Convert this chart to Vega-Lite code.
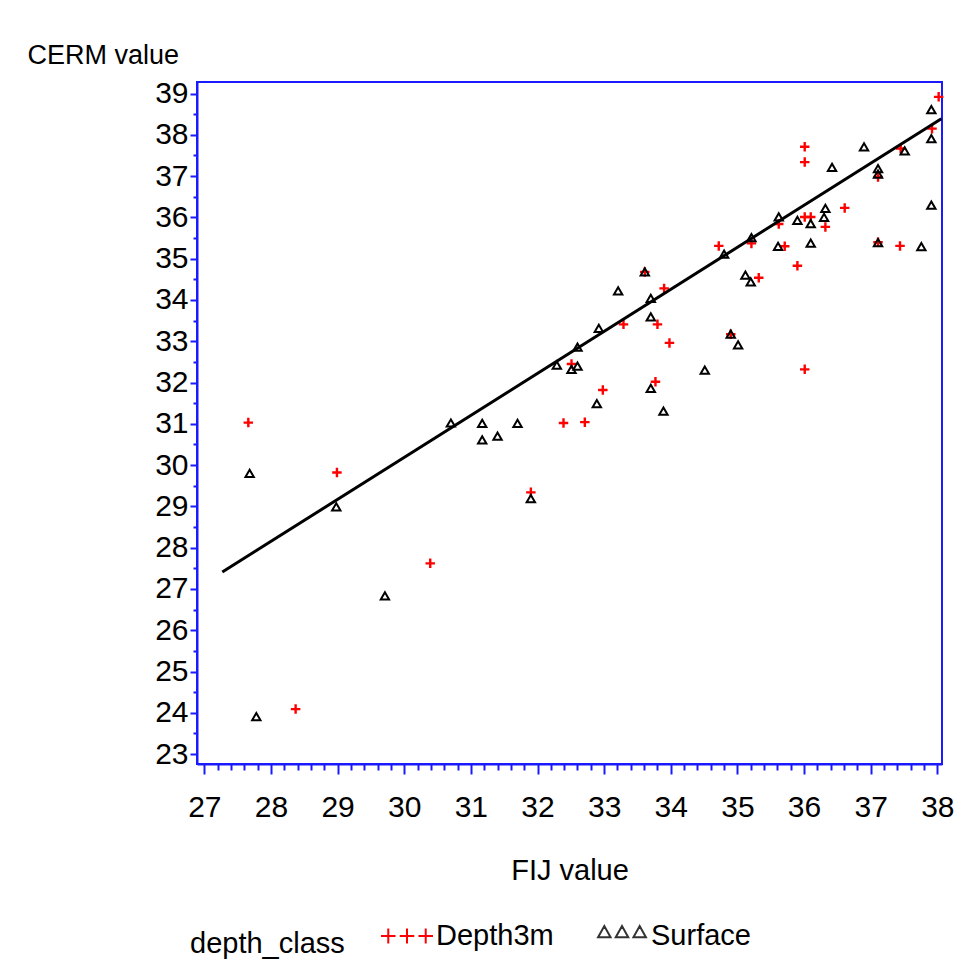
{
  "$schema": "https://vega.github.io/schema/vega-lite/v6.json",
  "width": 745,
  "height": 682,
  "autosize": {"type": "none"},
  "padding": {"left": 197, "top": 82, "right": 12, "bottom": 196},
  "background": "white",
  "config": {
    "font": "Liberation Sans",
    "view": {"stroke": "#1a1aff", "strokeWidth": 2},
    "axis": {"grid": false}
  },
  "datasets": {
    "points": [
      {"FIJ": 27.66, "CERM": 31.03, "depth_class": "Depth3m"},
      {"FIJ": 28.99, "CERM": 29.82, "depth_class": "Depth3m"},
      {"FIJ": 28.37, "CERM": 24.09, "depth_class": "Depth3m"},
      {"FIJ": 30.39, "CERM": 27.62, "depth_class": "Depth3m"},
      {"FIJ": 31.90, "CERM": 29.34, "depth_class": "Depth3m"},
      {"FIJ": 32.39, "CERM": 31.02, "depth_class": "Depth3m"},
      {"FIJ": 32.71, "CERM": 31.04, "depth_class": "Depth3m"},
      {"FIJ": 32.98, "CERM": 31.82, "depth_class": "Depth3m"},
      {"FIJ": 33.29, "CERM": 33.41, "depth_class": "Depth3m"},
      {"FIJ": 33.80, "CERM": 33.41, "depth_class": "Depth3m"},
      {"FIJ": 33.98, "CERM": 32.96, "depth_class": "Depth3m"},
      {"FIJ": 33.77, "CERM": 32.02, "depth_class": "Depth3m"},
      {"FIJ": 33.90, "CERM": 34.28, "depth_class": "Depth3m"},
      {"FIJ": 33.61, "CERM": 34.68, "depth_class": "Depth3m"},
      {"FIJ": 32.51, "CERM": 32.45, "depth_class": "Depth3m"},
      {"FIJ": 38.02, "CERM": 38.92, "depth_class": "Depth3m"},
      {"FIJ": 37.92, "CERM": 38.15, "depth_class": "Depth3m"},
      {"FIJ": 36.01, "CERM": 37.71, "depth_class": "Depth3m"},
      {"FIJ": 36.01, "CERM": 37.34, "depth_class": "Depth3m"},
      {"FIJ": 37.11, "CERM": 36.98, "depth_class": "Depth3m"},
      {"FIJ": 37.45, "CERM": 37.67, "depth_class": "Depth3m"},
      {"FIJ": 36.61, "CERM": 36.23, "depth_class": "Depth3m"},
      {"FIJ": 36.32, "CERM": 35.77, "depth_class": "Depth3m"},
      {"FIJ": 36.01, "CERM": 36.01, "depth_class": "Depth3m"},
      {"FIJ": 36.10, "CERM": 36.01, "depth_class": "Depth3m"},
      {"FIJ": 35.62, "CERM": 35.84, "depth_class": "Depth3m"},
      {"FIJ": 35.21, "CERM": 35.37, "depth_class": "Depth3m"},
      {"FIJ": 34.72, "CERM": 35.31, "depth_class": "Depth3m"},
      {"FIJ": 35.71, "CERM": 35.30, "depth_class": "Depth3m"},
      {"FIJ": 35.90, "CERM": 34.83, "depth_class": "Depth3m"},
      {"FIJ": 35.32, "CERM": 34.54, "depth_class": "Depth3m"},
      {"FIJ": 37.11, "CERM": 35.40, "depth_class": "Depth3m"},
      {"FIJ": 37.44, "CERM": 35.31, "depth_class": "Depth3m"},
      {"FIJ": 36.01, "CERM": 32.32, "depth_class": "Depth3m"},
      {"FIJ": 34.90, "CERM": 33.17, "depth_class": "Depth3m"},
      {"FIJ": 27.68, "CERM": 29.80, "depth_class": "Surface"},
      {"FIJ": 28.98, "CERM": 28.99, "depth_class": "Surface"},
      {"FIJ": 27.78, "CERM": 23.91, "depth_class": "Surface"},
      {"FIJ": 29.71, "CERM": 26.83, "depth_class": "Surface"},
      {"FIJ": 30.70, "CERM": 31.02, "depth_class": "Surface"},
      {"FIJ": 31.17, "CERM": 31.01, "depth_class": "Surface"},
      {"FIJ": 31.70, "CERM": 31.01, "depth_class": "Surface"},
      {"FIJ": 31.17, "CERM": 30.61, "depth_class": "Surface"},
      {"FIJ": 31.40, "CERM": 30.70, "depth_class": "Surface"},
      {"FIJ": 31.90, "CERM": 29.19, "depth_class": "Surface"},
      {"FIJ": 32.29, "CERM": 32.42, "depth_class": "Surface"},
      {"FIJ": 32.51, "CERM": 32.32, "depth_class": "Surface"},
      {"FIJ": 32.60, "CERM": 32.40, "depth_class": "Surface"},
      {"FIJ": 32.60, "CERM": 32.86, "depth_class": "Surface"},
      {"FIJ": 32.89, "CERM": 31.49, "depth_class": "Surface"},
      {"FIJ": 32.92, "CERM": 33.31, "depth_class": "Surface"},
      {"FIJ": 33.21, "CERM": 34.22, "depth_class": "Surface"},
      {"FIJ": 33.61, "CERM": 34.68, "depth_class": "Surface"},
      {"FIJ": 33.70, "CERM": 34.04, "depth_class": "Surface"},
      {"FIJ": 33.70, "CERM": 33.59, "depth_class": "Surface"},
      {"FIJ": 33.70, "CERM": 31.86, "depth_class": "Surface"},
      {"FIJ": 33.89, "CERM": 31.31, "depth_class": "Surface"},
      {"FIJ": 34.51, "CERM": 32.30, "depth_class": "Surface"},
      {"FIJ": 34.90, "CERM": 33.17, "depth_class": "Surface"},
      {"FIJ": 35.01, "CERM": 32.91, "depth_class": "Surface"},
      {"FIJ": 34.80, "CERM": 35.11, "depth_class": "Surface"},
      {"FIJ": 35.12, "CERM": 34.60, "depth_class": "Surface"},
      {"FIJ": 35.20, "CERM": 34.44, "depth_class": "Surface"},
      {"FIJ": 35.21, "CERM": 35.51, "depth_class": "Surface"},
      {"FIJ": 35.61, "CERM": 35.30, "depth_class": "Surface"},
      {"FIJ": 35.62, "CERM": 36.01, "depth_class": "Surface"},
      {"FIJ": 35.90, "CERM": 35.93, "depth_class": "Surface"},
      {"FIJ": 36.10, "CERM": 35.85, "depth_class": "Surface"},
      {"FIJ": 36.10, "CERM": 35.38, "depth_class": "Surface"},
      {"FIJ": 36.32, "CERM": 36.22, "depth_class": "Surface"},
      {"FIJ": 36.30, "CERM": 36.00, "depth_class": "Surface"},
      {"FIJ": 36.42, "CERM": 37.21, "depth_class": "Surface"},
      {"FIJ": 36.90, "CERM": 37.71, "depth_class": "Surface"},
      {"FIJ": 37.11, "CERM": 37.18, "depth_class": "Surface"},
      {"FIJ": 37.11, "CERM": 37.05, "depth_class": "Surface"},
      {"FIJ": 37.51, "CERM": 37.61, "depth_class": "Surface"},
      {"FIJ": 37.11, "CERM": 35.39, "depth_class": "Surface"},
      {"FIJ": 37.76, "CERM": 35.29, "depth_class": "Surface"},
      {"FIJ": 37.91, "CERM": 38.61, "depth_class": "Surface"},
      {"FIJ": 37.91, "CERM": 37.91, "depth_class": "Surface"},
      {"FIJ": 37.91, "CERM": 36.30, "depth_class": "Surface"}
    ],
    "fit": [
      {"FIJ": 27.27, "CERM": 27.41},
      {"FIJ": 38.06, "CERM": 38.39}
    ]
  },
  "layer": [
    {
      "data": {"name": "points"},
      "transform": [{"filter": "datum.depth_class === 'Depth3m'"}],
      "mark": {"type": "point", "shape": "M-1,0L1,0M0,-1L0,1", "filled": false, "color": "#ff0000", "strokeWidth": 2.4, "size": 90, "opacity": 1},
      "encoding": {
        "x": {
          "field": "FIJ", "type": "quantitative",
          "scale": {"domain": [26.89, 38.07], "nice": false, "zero": false},
          "axis": {
            "title": "FIJ value",
            "tickCount": 200,
            "values": [27,27.2,27.4,27.6,27.8,28,28.2,28.4,28.6,28.8,29,29.2,29.4,29.6,29.8,30,30.2,30.4,30.6,30.8,31,31.2,31.4,31.6,31.8,32,32.2,32.4,32.6,32.8,33,33.2,33.4,33.6,33.8,34,34.2,34.4,34.6,34.8,35,35.2,35.4,35.6,35.8,36,36.2,36.4,36.6,36.8,37,37.2,37.4,37.6,37.8,38],
            "labelExpr": "abs(datum.value - round(datum.value)) < 0.01 ? format(datum.value, 'd') : ''",
            "domainColor": "#1a1aff", "domainWidth": 2,
            "tickColor": "#1a1aff", "tickWidth": 2,
            "tickSize": {"condition": {"test": "abs(datum.value - round(datum.value)) > 0.01", "value": 6}, "value": 10},
            "labelFontSize": 30, "labelColor": "black", "labelPadding": 18,
            "labelOverlap": false, "labelFlush": false,
            "titleFontSize": 29, "titleFontWeight": "normal", "titleColor": "black", "titlePadding": 34
          }
        },
        "y": {
          "field": "CERM", "type": "quantitative",
          "scale": {"domain": [22.76, 39.28], "nice": false, "zero": false},
          "axis": {
            "title": "CERM value",
            "tickCount": 200,
            "values": [23,23.5,24,24.5,25,25.5,26,26.5,27,27.5,28,28.5,29,29.5,30,30.5,31,31.5,32,32.5,33,33.5,34,34.5,35,35.5,36,36.5,37,37.5,38,38.5,39],
            "labelExpr": "abs(datum.value - round(datum.value)) < 0.01 ? format(datum.value, 'd') : ''",
            "domainColor": "#1a1aff", "domainWidth": 2,
            "tickColor": "#1a1aff", "tickWidth": 2,
            "tickSize": {"condition": {"test": "abs(datum.value - round(datum.value)) > 0.01", "value": 4}, "value": 7},
            "labelFontSize": 30, "labelColor": "black", "labelPadding": 2,
            "labelOverlap": false, "labelFlush": false,
            "titleAngle": 0, "titleX": -170, "titleY": -27, "titleAlign": "left", "titleBaseline": "middle",
            "titleFontSize": 27, "titleFontWeight": "normal", "titleColor": "black"
          }
        }
      }
    },
    {
      "data": {"name": "points"},
      "transform": [{"filter": "datum.depth_class === 'Surface'"}],
      "mark": {"type": "point", "shape": "triangle-up", "filled": false, "color": "#000000", "strokeWidth": 2, "size": 70, "opacity": 1},
      "encoding": {
        "x": {"field": "FIJ", "type": "quantitative"},
        "y": {"field": "CERM", "type": "quantitative"}
      }
    },
    {
      "data": {"name": "points"},
      "mark": {"type": "point", "filled": false, "size": 0, "strokeWidth": 2},
      "encoding": {
        "x": {"field": "FIJ", "type": "quantitative"},
        "y": {"field": "CERM", "type": "quantitative"},
        "color": {
          "field": "depth_class", "type": "nominal",
          "scale": {"domain": ["Depth3m", "Surface"], "range": ["#ff0000", "#333333"]},
          "legend": {
            "orient": "none", "legendX": -7, "legendY": 827,
            "direction": "horizontal",
            "title": "depth_class",
            "titleOrient": "left", "titleAnchor": "middle", "titleBaseline": "top",
            "titleFontSize": 29, "titleFontWeight": "normal", "titleColor": "black", "titlePadding": 35,
            "labelFontSize": 29, "labelColor": "black", "labelOffset": 2,
            "columnPadding": 40,
            "symbolSize": 2704, "symbolStrokeWidth": 2, "symbolOpacity": 1
          }
        },
        "shape": {
          "field": "depth_class", "type": "nominal",
          "scale": {"domain": ["Depth3m", "Surface"], "range": ["M-1,0H-0.44M-0.72,-0.29V0.29M-0.28,0H0.28M0,-0.29V0.29M0.44,0H1M0.72,-0.29V0.29", "M-0.92,0.05L-0.68,-0.38L-0.44,0.05Z M-0.24,0.05L0,-0.38L0.24,0.05Z M0.44,0.05L0.68,-0.38L0.92,0.05Z"]},
          "legend": {
            "orient": "none", "legendX": -7, "legendY": 827,
            "direction": "horizontal",
            "title": "depth_class",
            "titleOrient": "left", "titleAnchor": "middle", "titleBaseline": "top",
            "titleFontSize": 29, "titleFontWeight": "normal", "titleColor": "black", "titlePadding": 35,
            "labelFontSize": 29, "labelColor": "black", "labelOffset": 2,
            "columnPadding": 40,
            "symbolSize": 2704, "symbolStrokeWidth": 2, "symbolOpacity": 1
          }
        }
      }
    },
    {
      "data": {"name": "fit"},
      "mark": {"type": "line", "color": "black", "strokeWidth": 3},
      "encoding": {
        "x": {"field": "FIJ", "type": "quantitative"},
        "y": {"field": "CERM", "type": "quantitative"}
      }
    }
  ]
}
